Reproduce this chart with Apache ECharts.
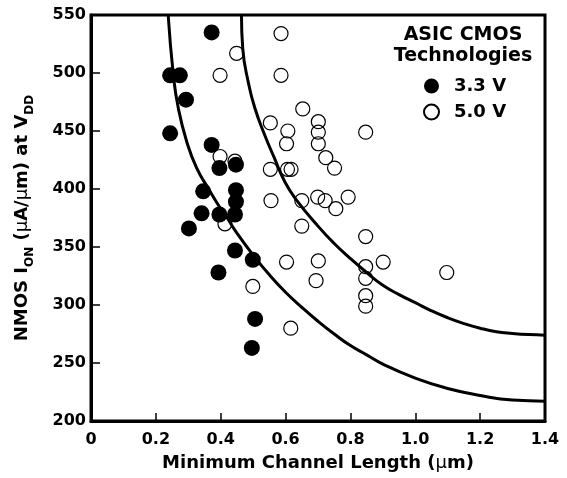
<!DOCTYPE html>
<html>
<head>
<meta charset="utf-8">
<script src="https://cdn.jsdelivr.net/npm/echarts@6/dist/echarts.min.js"></script>
<style>
html,body{margin:0;padding:0;background:#fff;}
#chart{width:567px;height:478px;}
</style>
</head>
<body>
<div id="chart"></div>
<script>
// x ticks and y ticks
var xTicks = [0, 0.2, 0.4, 0.6, 0.8, 1.0, 1.2, 1.4];
var yTicks = [200, 250, 300, 350, 400, 450, 500, 550];

// 3.3 V technologies (filled circles): [channel length um, Ion uA/um]
var v33 = [
  [0.372,535],[0.244,498],[0.274,498],[0.293,477],[0.244,448],[0.372,438],
  [0.396,418],[0.447,421],[0.346,398],[0.447,399],[0.447,389],[0.341,379],
  [0.396,378],[0.444,378],[0.302,366],[0.444,347],[0.499,339],[0.393,328],
  [0.506,288],[0.496,263]
];
// 5.0 V technologies (open circles)
var v50 = [
  [0.449,517],[0.398,498],[0.586,534],[0.586,498],[0.653,469],[0.553,457],
  [0.607,450],[0.603,439],[0.701,458],[0.701,449],[0.701,439],[0.847,449],
  [0.724,427],[0.751,418],[0.553,417],[0.606,417],[0.617,417],[0.398,428],
  [0.444,424],[0.555,390],[0.650,390],[0.699,393],[0.722,390],[0.755,383],
  [0.793,393],[0.650,368],[0.413,370],[0.847,359],[0.603,337],[0.701,338],
  [0.901,337],[0.847,333],[0.847,323],[0.847,308],[0.847,299],[1.097,328],
  [0.694,321],[0.616,280],[0.499,316]
];
// boundary curves
var lowerCurve = [
  [0.238,550],[0.254,498],[0.269,470],[0.295,441],[0.326,418],[0.367,398],
  [0.393,386],[0.42,375],[0.45,362],[0.50,343],[0.55,326],[0.60,311],
  [0.65,298],[0.70,286],[0.75,275],[0.80,265],[0.85,257],[0.90,249],
  [1.00,237],[1.10,228],[1.20,222],[1.30,218],[1.40,217]
];
var upperCurve = [
  [0.464,550],[0.468,521],[0.485,492],[0.505,470],[0.535,447],[0.565,427],
  [0.598,406],[0.635,390],[0.70,368],[0.75,353],[0.80,340],[0.85,328],
  [0.90,317],[0.95,309],[1.00,302],[1.05,295],[1.10,289],[1.15,284],
  [1.20,280],[1.25,277],[1.30,275.5],[1.35,274.5],[1.40,274]
];

var FONT = '"DejaVu Sans", Arial, sans-serif';
var chart = echarts.init(document.getElementById('chart'), null, {renderer:'canvas'});
var option = {
  animation: false,
  backgroundColor: '#fff',
  grid: {left: 91, right: 22, top: 15, bottom: 57, show: true, borderColor: '#000', borderWidth: 3, backgroundColor: 'transparent'},
  xAxis: {
    type: 'value', min: xTicks[0], max: xTicks[xTicks.length-1], interval: 0.2,
    splitLine: {show: false},
    axisLine: {show: true, onZero: false, lineStyle: {color: '#000', width: 3}},
    axisTick: {show: true, inside: true, length: 8, lineStyle: {color: '#000', width: 1.5}},
    axisLabel: {color: '#000', fontFamily: FONT, fontWeight: 'bold', fontSize: 16, margin: 11,
      formatter: function(v){ return Math.abs(v) < 1e-9 ? '0' : v.toFixed(1); }},
    name: 'Minimum Channel Length ({mu|μ}m)',
    nameLocation: 'middle', nameGap: 33,
    nameTextStyle: {color: '#000', fontFamily: FONT, fontWeight: 'bold', fontSize: 18,
      rich: {mu: {color: '#000', fontFamily: FONT, fontWeight: 'normal', fontSize: 18}}}
  },
  yAxis: {
    type: 'value', min: yTicks[0], max: yTicks[yTicks.length-1], interval: 50,
    splitLine: {show: false},
    axisLine: {show: true, onZero: false, lineStyle: {color: '#000', width: 3}},
    axisTick: {show: true, inside: true, length: 9, lineStyle: {color: '#000', width: 1.5}},
    axisLabel: {color: '#000', fontFamily: FONT, fontWeight: 'bold', fontSize: 16, margin: 5},
    name: '{t|NMOS I}{s|ON}{t| (}{mu|μ}{t|A/}{mu|μ}{t|m) at V}{s|DD}',
    nameLocation: 'middle', nameRotate: 90, nameGap: 55,
    nameTextStyle: {
      rich: {
        t: {color: '#000', fontFamily: FONT, fontWeight: 'bold', fontSize: 18, lineHeight: 28, verticalAlign: 'middle'},
        mu: {color: '#000', fontFamily: FONT, fontWeight: 'normal', fontSize: 18, lineHeight: 28, verticalAlign: 'middle'},
        s: {color: '#000', fontFamily: FONT, fontWeight: 'bold', fontSize: 12, lineHeight: 12, verticalAlign: 'bottom'}
      }
    }
  },
  legend: {
    data: ['3.3 V', '5.0 V'],
    orient: 'vertical', left: 418, top: 72,
    itemWidth: 15, itemHeight: 15, itemGap: 8,
    selectedMode: false,
    textStyle: {color: '#000', fontFamily: FONT, fontWeight: 'bold', fontSize: 18, lineHeight: 18, padding: [0,0,0,10]}
  },
  graphic: [
    {type: 'text', x: 463, y: 35, style: {text: 'ASIC CMOS', fill: '#000', font: 'bold 19px ' + FONT, textAlign: 'center', textVerticalAlign: 'middle'}},
    {type: 'text', x: 463, y: 56, style: {text: 'Technologies', fill: '#000', font: 'bold 19px ' + FONT, textAlign: 'center', textVerticalAlign: 'middle'}}
  ],
  series: [
    {name: 'upper', type: 'line', data: upperCurve, smooth: 0.5, showSymbol: false, silent: true, clip: true,
      lineStyle: {color: '#000', width: 3}, z: 1},
    {name: 'lower', type: 'line', data: lowerCurve, smooth: 0.5, showSymbol: false, silent: true, clip: true,
      lineStyle: {color: '#000', width: 3}, z: 1},
    {name: '5.0 V', type: 'scatter', data: v50, symbol: 'circle', symbolSize: 14,
      itemStyle: {color: 'rgba(255,255,255,0)', borderColor: '#000', borderWidth: 1.2, opacity: 1}, z: 2},
    {name: '3.3 V', type: 'scatter', data: v33, symbol: 'circle', symbolSize: 16,
      itemStyle: {color: '#000', opacity: 1}, z: 3}
  ]
};
chart.setOption(option);
</script>
</body>
</html>
